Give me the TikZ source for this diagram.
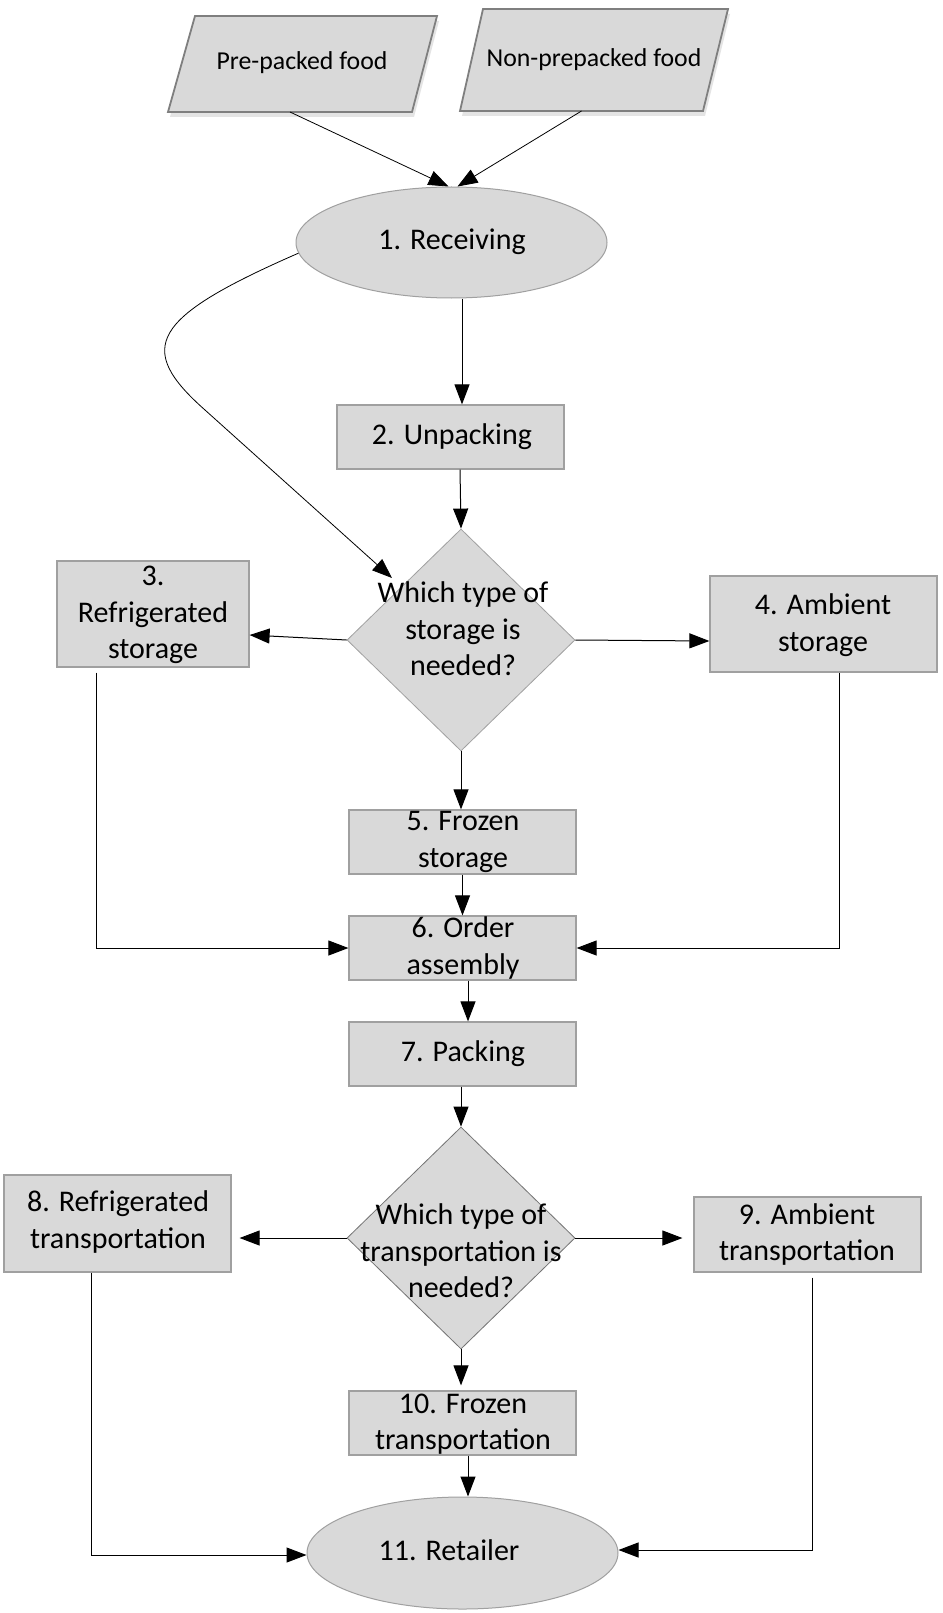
\documentclass[tikz,border=0pt]{standalone}
\usepackage{fontspec}
\setmainfont{Carlito}
\usetikzlibrary{shapes.geometric,arrows.meta,calc}
\definecolor{boxfill}{HTML}{D9D9D9}
\definecolor{boxdraw}{HTML}{A0A0A0}
\definecolor{paradraw}{HTML}{7F7F7F}
\definecolor{shadowgray}{HTML}{E4E4E4}
\begin{document}
\begin{tikzpicture}[x=1pt,y=-1pt,
  txt/.style={inner sep=0pt, align=center, font=\fontsize{30}{36.5}\selectfont},
  smalltxt/.style={inner sep=0pt, align=center, font=\fontsize{25.8}{31}\selectfont},
  procbox/.style={rectangle, draw=boxdraw, fill=boxfill, line width=1.2pt, inner sep=0pt},
  ell/.style={ellipse, draw=boxdraw, fill=boxfill, line width=1pt, inner sep=0pt},
  decision/.style={diamond, fill=boxfill, inner sep=0pt, minimum width=228pt, minimum height=222pt},
  parashape/.style={draw=paradraw, fill=boxfill, line width=1.8pt, line join=miter},
  parashadow/.style={fill=shadowgray},
  arr/.style={-{Triangle[length=20pt,width=15pt]}, line width=1pt, black},
  thin arr/.style={arr, line width=0.8pt}
]
\fill[white] (0,0) rectangle (942,1613);
\useasboundingbox (0,0) rectangle (942,1613);

% inputs (parallelograms)
\fill[parashadow] (170,117) -- (197,21) -- (439,21) -- (414,117) -- cycle;
\draw[parashape] (168,112) -- (195,16) -- (437,16) -- (412,112) -- cycle;
\node[smalltxt] (ppt) at (302,63) {Pre-packed food};
\coordinate (ppB) at (290,112);

\fill[parashadow] (462,116) -- (485,14) -- (730,14) -- (705,116) -- cycle;
\draw[parashape] (460,111) -- (483,9) -- (728,9) -- (703,111) -- cycle;
\node[smalltxt] (npt) at (594,60) {Non-prepacked food};
\coordinate (npB) at (581.5,111);

% receiving
\node[ell, minimum width=311pt, minimum height=111pt] (rec) at (451.5,242.5) {};
\node[txt] (rect) at (452,242) {1. Receiving};

% boxes
\node[procbox, minimum width=227pt, minimum height=64pt] (b2) at (450.5,437) {};
\node[txt] (b2t) at (452,437) {2. Unpacking};

\node[decision, draw=boxdraw, line width=0.8pt] (d1) at (461,640) {};
\node[txt] (d1t) at (463,629) {Which type of\\storage is\\needed?};

\node[procbox, minimum width=192pt, minimum height=106pt] (b3) at (153,614) {};
\node[txt] (b3t) at (153,615) {3.\\Refrigerated\\storage};

\node[procbox, minimum width=227pt, minimum height=96pt] (b4) at (823.5,624) {};
\node[txt] (b4t) at (823,625) {4. Ambient\\storage};

\node[procbox, minimum width=227pt, minimum height=64pt] (b5) at (462.5,842) {};
\node[txt] (b5t) at (463,842) {5. Frozen\\storage};

\node[procbox, minimum width=227pt, minimum height=64pt] (b6) at (462.5,948) {};
\node[txt] (b6t) at (463,948) {6. Order\\assembly};

\node[procbox, minimum width=227pt, minimum height=64pt] (b7) at (462.5,1054) {};
\node[txt] (b7t) at (463,1054) {7. Packing};

\node[decision, draw=black!55, line width=0.8pt] (d2) at (461,1238) {};
\node[txt] (d2t) at (461,1251) {Which type of\\transportation is\\needed?};

\node[procbox, minimum width=227pt, minimum height=97pt] (b8) at (117.5,1223.5) {};
\node[txt] (b8t) at (118,1222) {8. Refrigerated\\transportation};

\node[procbox, minimum width=227pt, minimum height=75pt] (b9) at (807.5,1234.5) {};
\node[txt] (b9t) at (807,1234.5) {9. Ambient\\transportation};

\node[procbox, minimum width=227pt, minimum height=64pt] (b10) at (462.5,1423) {};
\node[txt] (b10t) at (463,1424) {10. Frozen\\transportation};

\node[ell, minimum width=311pt, minimum height=112pt] (ret) at (462.5,1553) {};
\node[txt] (rett) at (449,1550) {11. Retailer};

% connectors
\draw[thin arr] (ppB) -- ([xshift=-3pt]rec.north);
\draw[thin arr] (npB) -- ([xshift=6pt]rec.north);
\draw[arr] ([xshift=10.5pt]rec.south) -- ([xshift=11.5pt]b2.north);
\draw[arr] ([xshift=9.5pt]b2.south) -- (d1.north);
\coordinate (c1tip) at (392,578);
\draw[thin arr] (rec.184) .. controls (150,318) and (135,348) .. (205,410) -- (c1tip);
\draw[arr] (d1.west) -- ([yshift=-21pt]b3.east);
\draw[arr] (d1.east) -- ([yshift=-17pt]b4.west);
\draw[arr] (d1.south) -- (d1.south |- b5.north);
\draw[arr] (b5.south) -- (b6.north);
\draw[arr] ([xshift=-57pt,yshift=-5pt]b3.south) |- (b6.west);
\draw[arr] ([xshift=15.5pt]b4.south) |- (b6.east);
\draw[arr] ([xshift=5.5pt]b6.south) -- ([xshift=5.5pt]b7.north);
\draw[arr] ([xshift=-1.5pt]b7.south) -- (d2.north);
\draw[arr] (d2.west) -- ($(b8.east |- d2.west)+(8,0)$);
\draw[arr] (d2.east) -- ($(b9.west |- d2.east)+(-11,0)$);
\draw[arr] (d2.south) -- ($(d2.south |- b10.north)+(0,-5)$);
\draw[arr] ([xshift=5.5pt]b10.south) -- ([xshift=5.5pt]ret.north);
\draw[arr] ([xshift=-26.5pt]b8.south) |- ([yshift=-2pt]ret.west);
\draw[arr] ([xshift=4.5pt,yshift=-5pt]b9.south) |- ([yshift=3pt]ret.east);
\end{tikzpicture}
\end{document}
